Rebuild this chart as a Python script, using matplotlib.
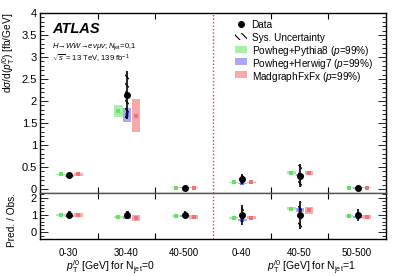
import numpy as np
import matplotlib
matplotlib.use("Agg")
import matplotlib.pyplot as plt
from matplotlib.patches import Rectangle
from matplotlib.ticker import MultipleLocator

plt.rcParams['font.family'] = ['Liberation Sans', 'DejaVu Sans']
plt.rcParams['mathtext.fontset'] = 'custom'
plt.rcParams['mathtext.rm'] = 'Liberation Sans'
plt.rcParams['mathtext.it'] = 'Liberation Sans:italic'
plt.rcParams['mathtext.bf'] = 'Liberation Sans:bold'
plt.rcParams['hatch.linewidth'] = 0.8

# bins
bin_labels = ['0-30', '30-40', '40-500', '0-40', '40-50', '50-500']

# measured cross section (fb/GeV)
data = [0.32, 2.14, 0.03, 0.22, 0.30, 0.02]
data_err = [0.05, 0.55, 0.005, 0.11, 0.26, 0.008]
data_sys = [0.04, 0.52, 0.004, 0.09, 0.24, 0.006]

# predictions and their uncertainties
pythia = [0.33, 1.78, 0.03, 0.15, 0.37, 0.025]
pythia_err = [0.02, 0.14, 0.004, 0.012, 0.03, 0.003]
herwig = [0.30, 1.69, 0.028, 0.13, 0.32, 0.022]
herwig_err = [0.02, 0.16, 0.004, 0.012, 0.03, 0.003]
madgraph = [0.33, 1.67, 0.03, 0.15, 0.36, 0.025]
madgraph_err = [0.04, 0.37, 0.005, 0.015, 0.05, 0.004]

# ratio panel (pred / obs)
ratio_data_err = [0.25, 0.25, 0.2, 0.6, 0.8, 0.35]
ratio_sys = [0.2, 0.22, 0.15, 0.55, 0.75, 0.3]
ratio_pythia = [1.0, 0.88, 0.95, 0.83, 1.36, 0.92]
ratio_pythia_err = [0.05, 0.07, 0.05, 0.05, 0.1, 0.06]
ratio_herwig = [0.95, 0.86, 0.93, 0.73, 1.27, 0.87]
ratio_herwig_err = [0.06, 0.08, 0.06, 0.06, 0.12, 0.07]
ratio_madgraph = [1.02, 0.82, 0.9, 0.83, 1.27, 0.9]
ratio_madgraph_err = [0.12, 0.17, 0.12, 0.08, 0.2, 0.12]

models = [
    ('Powheg+Pythia8 ($p$=99%)', '#a8f0a8', '#66e066', -0.14),
    ('Powheg+Herwig7 ($p$=99%)', '#a8a8f4', '#6a6af0', 0.01),
    ('MadgraphFxFx ($p$=99%)', '#f6aaaa', '#f07272', 0.165),
]
box_w = 0.15
centers = np.arange(len(bin_labels)) + 0.5

fig = plt.figure(figsize=(4.07, 2.76), dpi=100)
ax = fig.add_axes([0.098, 0.3025, 0.85, 0.6505])
rax = fig.add_axes([0.098, 0.135, 0.85, 0.1675])


def draw_panel(a, vals_list, errs_list, dvals, derr, dsys):
    for (name, fc, mc, off), vals, errs in zip(models, vals_list, errs_list):
        for c, v, e in zip(centers, vals, errs):
            e = max(e, 0.012 if a is ax else 0.04)
            a.add_patch(Rectangle((c + off - box_w / 2, v - e), box_w, 2 * e,
                                  facecolor=fc, edgecolor='none', zorder=2))
        a.plot(centers + off, vals, 's', color=mc, ms=3, mew=0, zorder=3)
    for c, v, s in zip(centers, dvals, dsys):
        a.add_patch(Rectangle((c + 0.01 - 0.03, v - s), 0.06, 2 * s,
                              facecolor='none', edgecolor='k', lw=0,
                              hatch='\\\\\\\\', zorder=4))
    a.errorbar(centers + 0.01, dvals, yerr=derr, fmt='o', color='k', ms=4,
               elinewidth=1.2, capsize=0, zorder=5)


draw_panel(ax, [pythia, herwig, madgraph],
           [pythia_err, herwig_err, madgraph_err], data, data_err, data_sys)
draw_panel(rax, [ratio_pythia, ratio_herwig, ratio_madgraph],
           [ratio_pythia_err, ratio_herwig_err, ratio_madgraph_err],
           np.ones(6), ratio_data_err, ratio_sys)

for a in (ax, rax):
    a.set_xlim(0, 6)
    a.axvline(3, color='#e04040', ls=(0, (1, 1.5)), lw=1.0, zorder=1)
    a.set_xticks([1, 2, 4, 5], minor=True)
    a.tick_params(axis='x', which='minor', direction='in', length=4, top=True,
                  bottom=True, width=0.8)
    a.tick_params(axis='y', which='both', direction='in', left=True, right=True,
                  labelsize=8, width=0.6, pad=2)
    a.tick_params(axis='y', which='major', length=6)
    a.tick_params(axis='y', which='minor', length=3)
    for sp in a.spines.values():
        sp.set_linewidth(1.0)

ax.set_ylim(-0.08, 4)
ax.yaxis.set_minor_locator(MultipleLocator(0.1))
ax.set_yticks([0, 0.5, 1, 1.5, 2, 2.5, 3, 3.5, 4])
ax.set_yticklabels(['0', '0.5', '1', '1.5', '2', '2.5', '3', '3.5', '4'])
ax.set_xticks([])
ax.spines['bottom'].set_color('#555555')

rax.set_ylim(-0.38, 2.3)
rax.set_yticks([0, 1, 2])
rax.yaxis.set_minor_locator(MultipleLocator(0.2))
rax.set_xticks(centers)
rax.set_xticklabels(bin_labels, fontsize=7)
rax.tick_params(axis='x', which='major', length=0, pad=7)
rax.spines['top'].set_color('#555555')

ax.set_ylabel(r'd$\sigma$/d($p_{\mathrm{T}}^{l0}$) [fb/GeV]', fontsize=7.3,
              loc='top')
ax.yaxis.set_label_coords(-0.065, 1.0)
rax.set_ylabel('Pred. / Obs.', fontsize=7.3)
rax.yaxis.set_label_coords(-0.065, 0.4)

fig.text(110 / 407, 1 - 268 / 276,
         r'$p_{\mathrm{T}}^{l0}$ [GeV] for N$_{\mathrm{jet}}$=0',
         fontsize=7.5, ha='center', va='center')
fig.text(311 / 407, 1 - 268 / 276,
         r'$p_{\mathrm{T}}^{l0}$ [GeV] for N$_{\mathrm{jet}}$=1',
         fontsize=7.5, ha='center', va='center')

ax.text(0.036, 0.889, 'ATLAS', transform=ax.transAxes, fontsize=10.5,
        fontweight='bold', fontstyle='italic')
ax.text(0.036, 0.805,
        r'$H\!\rightarrow\!WW\!\rightarrow\!e\nu\mu\nu$; $N_{\mathrm{jet}}$=0,1',
        transform=ax.transAxes, fontsize=5.5)
ax.text(0.036, 0.727, r'$\sqrt{s}$ = 13 TeV, 139 fb$^{-1}$',
        transform=ax.transAxes, fontsize=5.5)

# legend, drawn by hand so the rows are evenly spaced
leg_labels = ['Data', 'Sys. Uncertainty'] + [m[0] for m in models]
row_h = 0.0705
x_h = 0.564
x_t = 0.612
hw, hh = 0.036, 0.038
for i, lab in enumerate(leg_labels):
    yc = 0.939 - i * row_h
    if i == 0:
        ax.plot([x_h + hw / 2], [yc], 'o', color='k', ms=4,
                transform=ax.transAxes, clip_on=False)
    elif i == 1:
        ax.add_patch(Rectangle((x_h, yc - hh / 2), hw, hh, facecolor='none',
                               edgecolor='k', lw=0, hatch='\\\\\\\\',
                               transform=ax.transAxes))
    else:
        fc = models[i - 2][1]
        ax.add_patch(Rectangle((x_h, yc - hh / 2), hw, hh, facecolor=fc,
                               edgecolor='none', transform=ax.transAxes))
    ax.text(x_t, yc, lab, transform=ax.transAxes, fontsize=7.2,
            va='center_baseline', ha='left')

fig.savefig('out.png', dpi=100)
